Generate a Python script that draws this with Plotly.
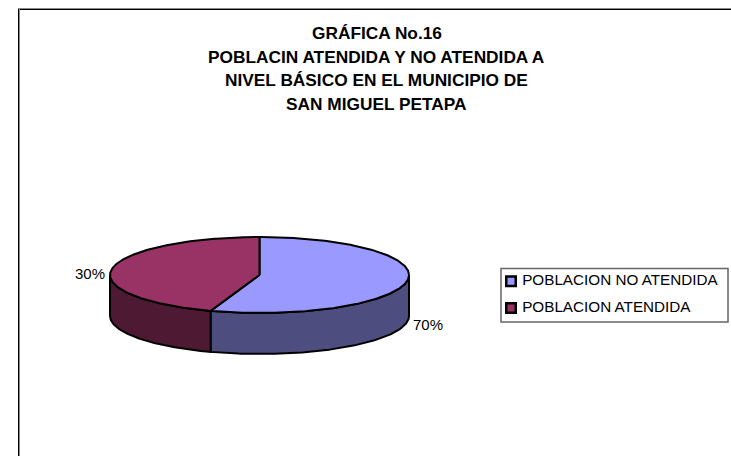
import numpy as np
import plotly.graph_objects as go

# Data
categories = ["POBLACION NO ATENDIDA", "POBLACION ATENDIDA"]
slice_shares = [55.3, 44.7]
slice_labels = ["70%", "30%"]
title_lines = ["GRÁFICA No.16", "POBLACIN ATENDIDA Y NO ATENDIDA A",
               "NIVEL BÁSICO EN EL MUNICIPIO DE", "SAN MIGUEL PETAPA"]

W, H = 731, 456
CX, CY, RX, RY, DEPTH = 259.5, 275, 149.5, 38, 41
top_colors = ["#9999FF", "#993366"]
side_colors = ["#4D4D80", "#4D1933"]
FONT = "Liberation Sans"


def rim(t):
    # t is clockwise angle from 12 o'clock, in radians
    return CX + RX * np.sin(t), CY + RY * -np.cos(t)


fig = go.Figure()
line = dict(color="#000000", width=2)
frac = np.cumsum([0] + slice_shares) / sum(slice_shares) * 2 * np.pi

# outer walls: only the front half (pi/2..3pi/2) is visible
for i, name in enumerate(categories):
    a, b = max(frac[i], np.pi / 2), min(frac[i + 1], 3 * np.pi / 2)
    t = np.linspace(a, b, 120)
    x, y = rim(t)
    fig.add_trace(go.Scatter(
        x=np.r_[x, x[::-1], x[0]], y=np.r_[y, y[::-1] + DEPTH, y[0]],
        mode="lines", fill="toself", fillcolor=side_colors[i], line=line,
        showlegend=False, hoverinfo="skip"))

# top faces
for i, name in enumerate(categories):
    t = np.linspace(frac[i], frac[i + 1], 240)
    x, y = rim(t)
    fig.add_trace(go.Scatter(
        x=np.r_[CX, x, CX], y=np.r_[CY, y, CY],
        mode="lines", fill="toself", fillcolor=top_colors[i], line=line,
        showlegend=False, hoverinfo="skip"))

# legend box and entries (swatch sits closer to its text than a native legend allows)
fig.add_shape(type="rect", x0=501, x1=728, y0=268.5, y1=322, xref="x", yref="y",
              line=dict(color="#666666", width=1.5), fillcolor="white", layer="below")
for i, name in enumerate(categories):
    fig.add_trace(go.Scatter(
        x=[511], y=[281.2 + i * 26.8], mode="markers+text", name=name,
        text=[" " + name], textposition="middle right",
        textfont=dict(family=FONT, size=15.25, color="#000000"),
        marker=dict(symbol="square", size=9.5, color=top_colors[i],
                    line=dict(color="#000000", width=2.5)),
        showlegend=False, hoverinfo="name"))

# slice labels
label_pos = [(428, 324), (90, 273)]
for txt, (lx, ly) in zip(slice_labels, label_pos):
    fig.add_annotation(x=lx, y=ly, text=txt, showarrow=False, xref="x", yref="y",
                       font=dict(family=FONT, size=15, color="#000000"))

# title
for i, txt in enumerate(title_lines):
    fig.add_annotation(x=376.5, y=33.3 + i * 23.4, xref="x", yref="y", showarrow=False,
                       align="center", text="<b>" + txt + "</b>",
                       font=dict(family=FONT, size=17.3, color="#000000"))

# chart frame: black line with a grey edge
for color, off_top, off_left in [("#000000", 9.5, 18.5), ("#888888", 8.5, 19.5)]:
    fig.add_shape(type="line", x0=18, x1=W, y0=off_top, y1=off_top, xref="x", yref="y",
                  line=dict(color=color, width=1))
    fig.add_shape(type="line", x0=off_left, x1=off_left, y0=9, y1=H, xref="x", yref="y",
                  line=dict(color=color, width=1))

fig.update_layout(
    width=W, height=H, margin=dict(l=0, r=0, t=0, b=0),
    paper_bgcolor="white", plot_bgcolor="white",
    xaxis=dict(range=[0, W], visible=False, fixedrange=True),
    yaxis=dict(range=[H, 0], visible=False, fixedrange=True),
    showlegend=False,
)
fig.write_html("out.html", config={"displayModeBar": False},
               post_script="document.body.style.margin='0';document.body.style.overflow='hidden';")
